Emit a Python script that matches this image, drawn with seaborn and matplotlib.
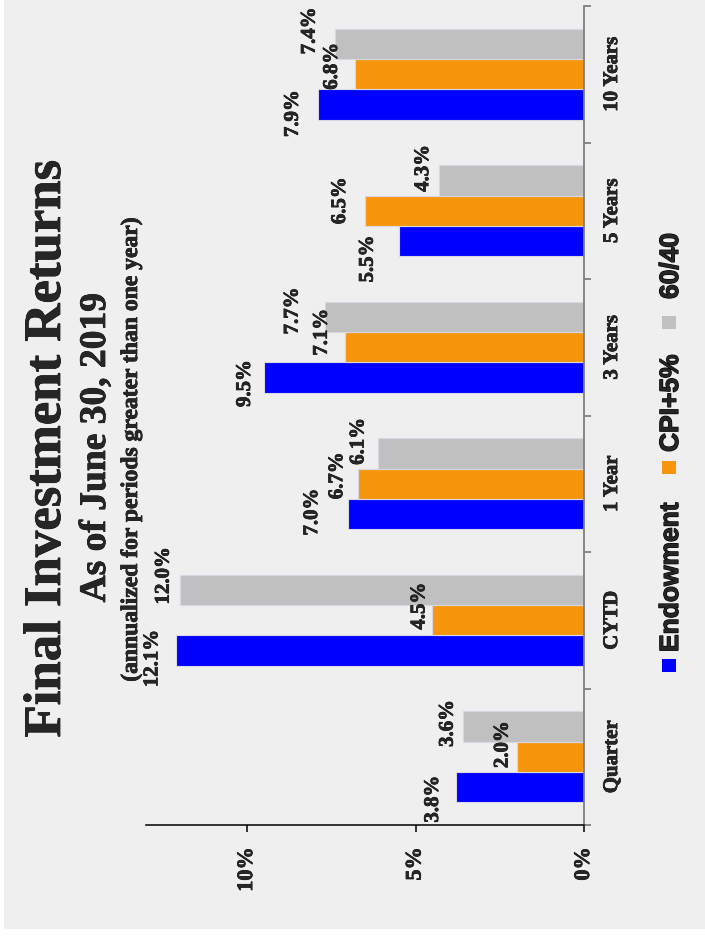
import numpy as np
import pandas as pd
import seaborn as sns
from matplotlib import pyplot as plt
from matplotlib import patheffects as pe
from matplotlib.patches import Rectangle

# data
periods = ['Quarter', 'CYTD', '1 Year', '3 Years', '5 Years', '10 Years']
series = ['Endowment', 'CPI+5%', '60/40']
endowment = [3.8, 12.1, 7.0, 9.5, 5.5, 7.9]
cpi_plus_5 = [2.0, 4.5, 6.7, 7.1, 6.5, 6.8]
sixty_forty = [3.6, 12.0, 6.1, 7.7, 4.3, 7.4]
value_ticks = [0, 5, 10]
value_tick_labels = ['0%', '5%', '10%']

colors = ['#0000ff', '#f7960c', '#c0c0c0']
serif = ['Liberation Serif', 'DejaVu Serif']
sans = ['Liberation Sans', 'DejaVu Sans']
bg = '#efefef'
# rotated glyphs come out thin, thicken them a bit
heavy = [pe.withStroke(linewidth=0.5, foreground='black')]
heavier = [pe.withStroke(linewidth=0.9, foreground='black')]

df = pd.DataFrame({
    'period': periods * 3,
    'series': [s for s in series for _ in periods],
    'value': endowment + cpi_plus_5 + sixty_forty,
})

sns.set_style('white')
fig = plt.figure(figsize=(7.05, 9.37), dpi=100, facecolor='white')
fig.patches.append(Rectangle((4 / 705, 1 - 930 / 937), 1, 1, transform=fig.transFigure,
                             facecolor=bg, edgecolor='none', zorder=-10))

ax = fig.add_axes([146 / 705, 1 - 826 / 937, 438 / 705, 819 / 937])
ax.set_facecolor('none')
sns.barplot(data=df, y='period', x='value', hue='series', order=periods, hue_order=series,
            palette=colors, saturation=1, orient='h', width=0.667, edgecolor='#d8d8e4',
            linewidth=0.8, legend=False, ax=ax)

# chart is turned on its side: 0% on the right, Quarter at the bottom
ax.set_xlim(13, 0)
ax.set_ylim(-0.5, len(periods) - 0.5)
ax.set_xlabel('')
ax.set_ylabel('')

for s in ['left', 'top']:
    ax.spines[s].set_visible(False)
ax.spines['bottom'].set_color('black')
ax.spines['bottom'].set_linewidth(1.1)
ax.spines['right'].set_color('#7f7f7f')
ax.spines['right'].set_linewidth(1.3)

ax.set_xticks(value_ticks, labels=value_tick_labels)
for t in ax.get_xticklabels():
    t.set_rotation(90)
    t.set_fontfamily(serif)
    t.set_fontweight('bold')
    t.set_fontsize(16)
    t.set_path_effects(heavy)
ax.tick_params(axis='x', bottom=True, direction='out', length=5, width=1.1, color='black', pad=11)

ax.yaxis.set_ticks_position('right')
ax.set_yticks(np.arange(-0.5, len(periods), 1), labels=[''] * (len(periods) + 1))
ax.set_yticks(range(len(periods)), labels=periods, minor=True)
ax.tick_params(axis='y', which='major', right=True, left=False, direction='out', length=5,
               width=1.3, color='#7f7f7f')
ax.tick_params(axis='y', which='minor', right=True, left=False, length=0, pad=13,
               labelright=True, labelleft=False)
for t in ax.get_yticklabels(minor=True):
    t.set_rotation(90)
    t.set_fontfamily(serif)
    t.set_fontweight('bold')
    t.set_fontsize(15)
    t.set_va('center')
    t.set_path_effects(heavy)

# data labels, nudged (gap px from bar end, shift px down) like the original staggering
nudge = [
    [(13, 12), (14, 8), (26, -2), (9, 6), (21, 18), (15, 9)],
    [(4, -12), (3, -14), (11, -8), (13, -15), (15, -10), (13, -8)],
    [(5, -3), (6, -14), (10, -12), (22, -6), (6, -12), (15, -13)],
]
for k, cont in enumerate(ax.containers):
    for i, bar in enumerate(cont):
        v = bar.get_width()
        yc = bar.get_y() + bar.get_height() / 2
        gap, dy = nudge[k][i]
        ax.annotate(f'{v:.1f}%', xy=(v, yc), xytext=(-gap, -dy), textcoords='offset pixels',
                    rotation=90, ha='right', va='center', fontsize=15, fontweight='bold',
                    family=serif, annotation_clip=False, path_effects=heavy)

# titles
fig.text(60 / 705, 1 - 450 / 937, 'Final Investment Returns', rotation=90, rotation_mode='anchor',
         ha='center', va='baseline', fontsize=38, fontweight='bold', family=serif,
         path_effects=heavy)
fig.text(105 / 705, 1 - 449 / 937, 'As of June 30, 2019', rotation=90, rotation_mode='anchor',
         ha='center', va='baseline', fontsize=27, fontweight='bold', family=serif,
         path_effects=heavy)
fig.text(137 / 705, 1 - 450 / 937, '(annualized for periods greater than one year)', rotation=90,
         rotation_mode='anchor', ha='center', va='baseline', fontsize=17, fontweight='bold',
         family=serif, path_effects=heavy)

# legend
legend_start = [653, 453, 300]
square_bottom = [673, 475, 330]
for name, col, ys, yb in zip(series, colors, legend_start, square_bottom):
    fig.patches.append(Rectangle((662 / 705, 1 - yb / 937), 14 / 705, 13 / 937,
                                 transform=fig.transFigure, facecolor=col, edgecolor='none'))
    fig.text(678 / 705, 1 - ys / 937, name, rotation=90, rotation_mode='anchor', ha='left',
             va='baseline', fontsize=19, fontweight='bold', family=sans, path_effects=heavier)

fig.savefig('out.png', dpi=100)
